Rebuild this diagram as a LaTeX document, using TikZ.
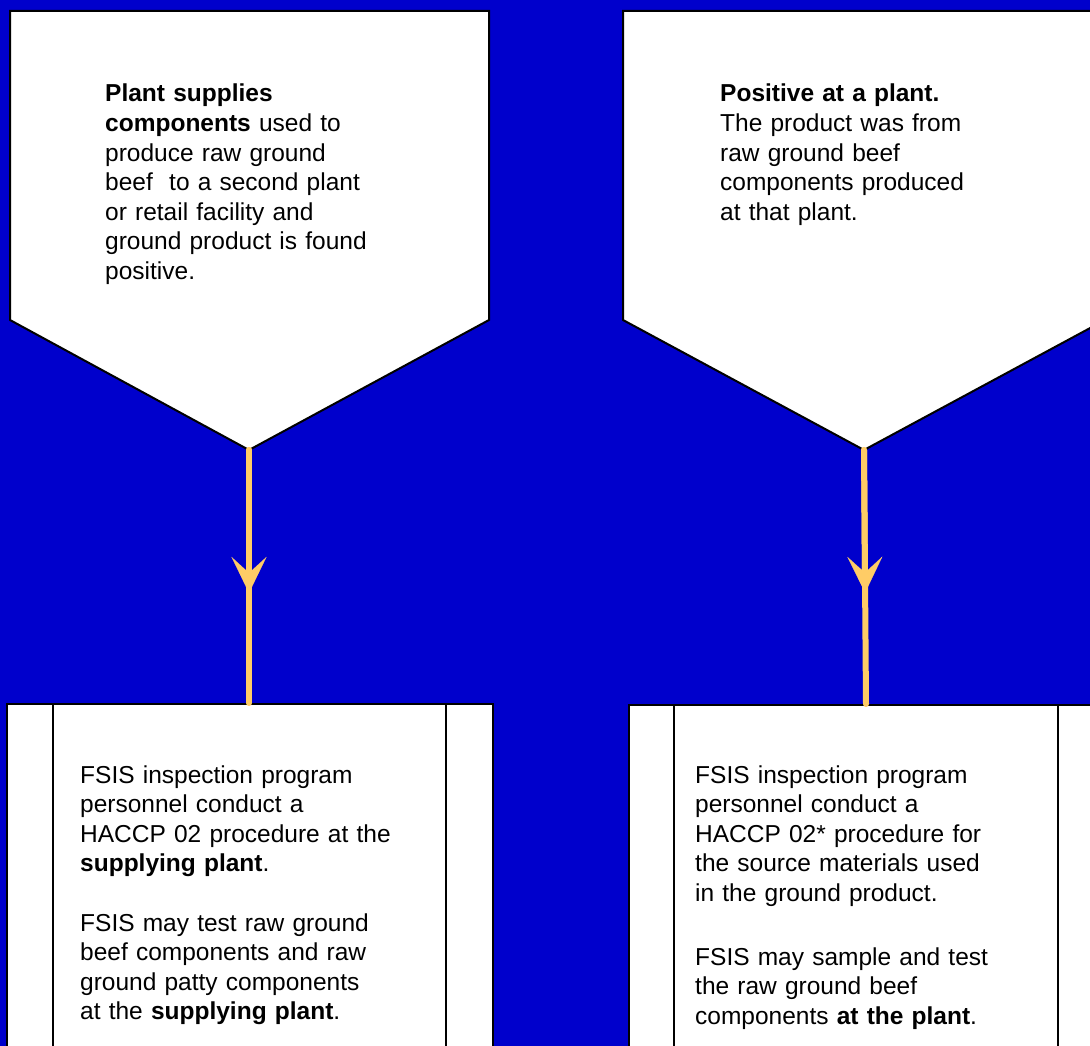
\documentclass[tikz,border=0pt]{standalone}
\usepackage{fontspec}
\setmainfont{Liberation Sans}
\usetikzlibrary{arrows.meta,calc}
\definecolor{bgblue}{RGB}{0,0,204}
\definecolor{arrorange}{RGB}{255,204,102}
\begin{document}
\begin{tikzpicture}[x=1pt,y=-1pt,
  outline/.style={draw=black,line width=2pt,fill=white,line join=miter},
  procbox/.style={outline,anchor=north west,inner sep=0pt,minimum width=#1,minimum height=360pt},
  txt/.style={anchor=base west,inner sep=0pt,align=left,text width=420pt,font=\fontsize{24.5}{29.6}\selectfont},
  conn/.style={draw=arrorange,line width=6pt,line cap=round},
  midtip/.style={-{Stealth[length=36pt,width=35pt,inset=16pt,line width=0.1pt]}}]
\useasboundingbox (0,0) rectangle (1090,1046);
\clip (0,0) rectangle (1090,1046);
\fill[bgblue] (0,0) rectangle (1090,1046);
% pentagons
\draw[outline] (10,11) -- (489,11) -- (489,320) -- (249,450) coordinate (p1) -- (10,320) -- cycle;
\draw[outline] (623,11) -- (1105,11) -- (1105,320) -- (864,450) coordinate (p2) -- (623,320) -- cycle;
% process boxes
\node[procbox=486pt] (b1) at (6,703) {};
\draw[black,line width=2pt] ($(b1.north west)+(47,0)$) -- ($(b1.south west)+(47,0)$);
\draw[black,line width=2pt] ($(b1.north east)+(-48,0)$) -- ($(b1.south east)+(-48,0)$);
\node[procbox=476pt] (b2) at (628,704) {};
\draw[black,line width=2pt] ($(b2.north west)+(46,0)$) -- ($(b2.south west)+(46,0)$);
\draw[black,line width=2pt] ($(b2.north east)+(-48,0)$) -- ($(b2.south east)+(-48,0)$);
% connectors
\coordinate (t1) at (b1.north -| p1);
\coordinate (t2) at ($(b2.north west)+(238,0)$);
\coordinate (m1) at ($(p1)!0.565!(t1)$);
\coordinate (m2) at ($(p2)!0.562!(t2)$);
\draw[conn] (p1) -- (t1);
\draw[conn,midtip] (p1) -- (m1);
\draw[conn] (p2) -- (t2);
\draw[conn,midtip] (p2) -- (m2);
% texts
\node[txt] (tx1) at (105,102) {\textbf{Plant supplies}\\ \textbf{components} used to\\ produce raw ground\\ beef~ to a second plant\\ or retail facility and\\ ground product is found\\ positive.};
\node[txt] (tx2) at (720,102) {\textbf{Positive at a plant.}\\ The product was from\\ raw ground beef\\ components produced\\ at that plant.};
\node[txt] (tx3) at (80,783) {FSIS inspection program\\ personnel conduct a\\ HACCP 02 procedure at the\\ \textbf{supplying plant}.\\[29.6pt] FSIS may test raw ground\\ beef components and raw\\ ground patty components\\ at the \textbf{supplying plant}.};
\node[txt] (tx4) at (695,783) {FSIS inspection program\\ personnel conduct a\\ HACCP 02* procedure for\\ the source materials used\\ in the ground product.\\[34pt] FSIS may sample and test\\ the raw ground beef\\ components \textbf{at the plant}.};
\end{tikzpicture}
\end{document}
